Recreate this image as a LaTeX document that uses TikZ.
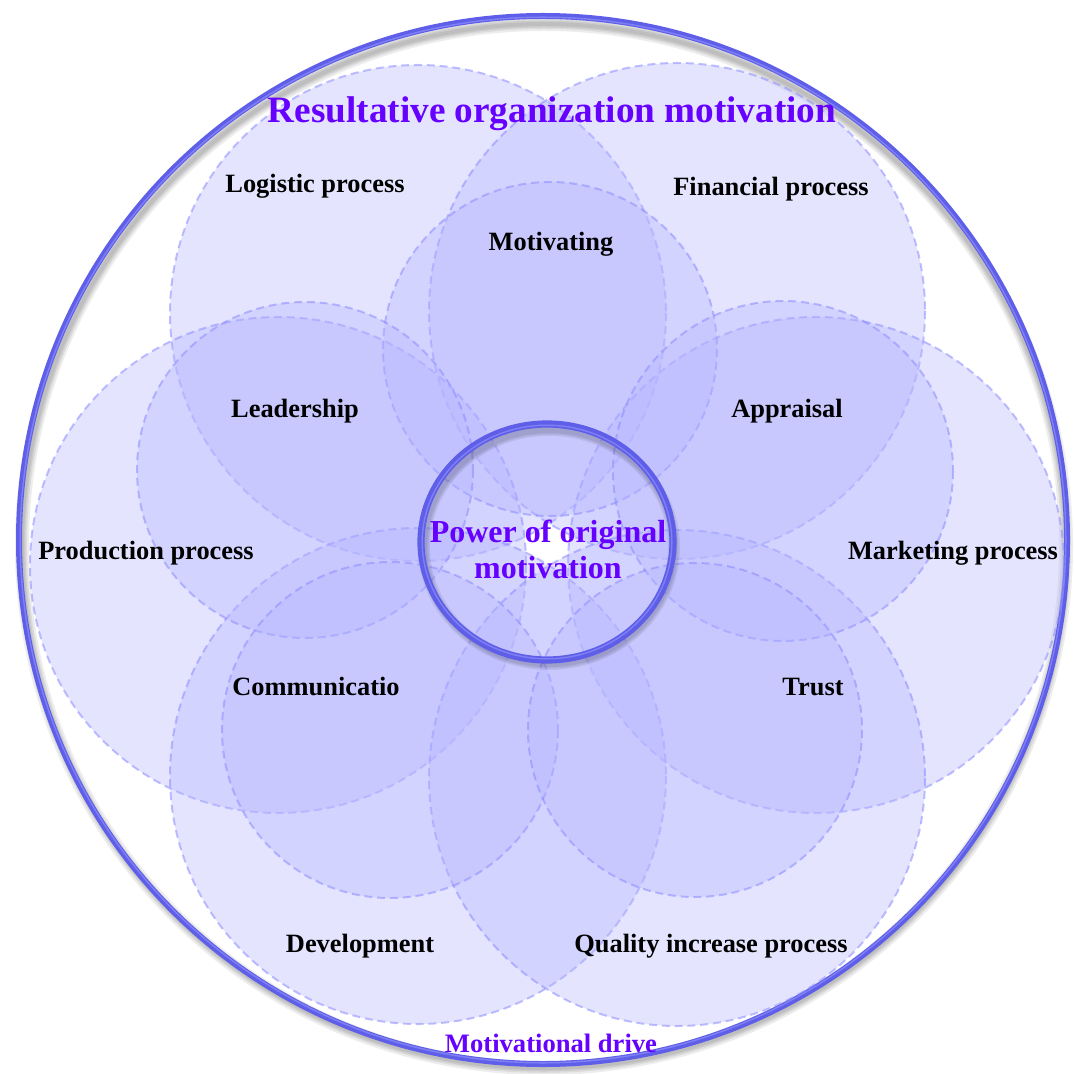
\documentclass[tikz,border=0pt]{standalone}
\usepackage{fontspec}
\setmainfont{Liberation Serif}
\definecolor{petalfill}{RGB}{182,182,255}
\definecolor{petaledge}{RGB}{140,140,255}
\definecolor{ringblue}{RGB}{94,94,232}
\definecolor{ringlight}{RGB}{128,128,246}
\definecolor{keyviolet}{RGB}{102,0,255}
\begin{document}
\begin{tikzpicture}[x=0.5pt,y=-0.5pt,
  petal/.style={fill=petalfill, fill opacity=0.37, draw=petaledge, draw opacity=0.55,
    line width=1pt, dash pattern=on 4pt off 2.4pt},
  softshadow/.style={draw=black, draw opacity=0.07, line width=#1},
  ringmain/.style={draw=ringblue, line width=#1},
  ringhi/.style={draw=ringlight, line width=0.7pt},
  lbl/.style={font=\bfseries\fontsize{13.2}{15}\selectfont, text=black, inner sep=0pt, anchor=base},
  keylbl/.style={font=\bfseries\fontsize{#1}{#1}\selectfont, text=keyviolet, inner sep=0pt, anchor=base}]
\useasboundingbox (0,0) rectangle (1074,1074);

% outer ring with a soft shadow below it
\foreach \w in {7pt,5pt,3.5pt,2pt}
  \draw[softshadow=\w] (544,546) circle [radius=522];
\draw[ringmain=3pt] (543,540) circle [radius=524];
\draw[ringhi] (543,540) circle [radius=522.8];

% six process circles
\draw[petal] (418,313) circle [radius=248];
\draw[petal] (677,311) circle [radius=248];
\draw[petal] (278,565) circle [radius=248];
\draw[petal] (816,565) circle [radius=248];
\draw[petal] (418,776) circle [radius=248];
\draw[petal] (677,778) circle [radius=248];

% five inner circles
\draw[petal] (550,349) circle [radius=167];
\draw[petal] (305,470) circle [radius=168];
\draw[petal] (783,471) circle [radius=170];
\draw[petal] (390,730) circle [radius=168];
\draw[petal] (695,730) circle [radius=167];

% central ring with its shadow
\foreach \w in {6pt,4.5pt,3pt}
  \draw[softshadow=\w] (549,547) ellipse [x radius=125, y radius=117];
\draw[ringmain=3.6pt] (547,542) ellipse [x radius=126, y radius=118];
\draw[ringhi] (547,542) ellipse [x radius=124.8, y radius=116.8];

% labels
\node[keylbl=18.6] (title) at (552,123) {Resultative organization motivation};
\node[lbl] (logistic) at (315,193) {Logistic process};
\node[lbl] (financial) at (771,196) {Financial process};
\node[lbl] (motivating) at (551,251) {Motivating};
\node[lbl] (leadership) at (295,417) {Leadership};
\node[lbl] (appraisal) at (787,417) {Appraisal};
\node[lbl] (production) at (146,559) {Production process};
\node[lbl] (marketing) at (953,559) {Marketing process};
\node[lbl] (communication) at (316,695) {Communicatio};
\node[lbl] (trust) at (813,695) {Trust};
\node[lbl] (development) at (360,952) {Development};
\node[lbl] (quality) at (711,952) {Quality increase process};
\node[keylbl=16] (power) at (548,542) {Power of original};
\node[keylbl=16] (powertwo) at (548,578) {motivation};
\node[keylbl=13.3] (drive) at (551,1052) {Motivational drive};
\end{tikzpicture}
\end{document}
